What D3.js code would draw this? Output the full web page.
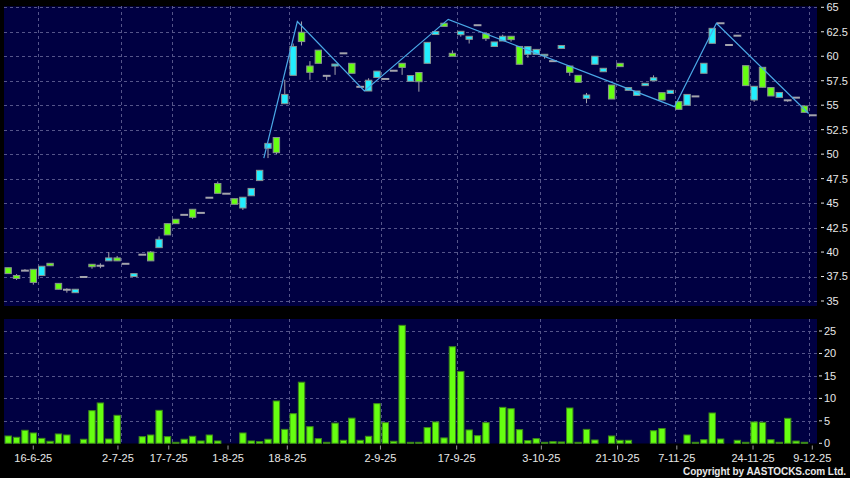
<!DOCTYPE html>
<html><head><meta charset="utf-8">
<script src="https://cdn.jsdelivr.net/npm/d3@7"></script>
<style>html,body{margin:0;padding:0;background:#000;}svg{display:block;}</style>
</head><body><svg id="c" width="850" height="478"></svg>
<script>
const opens = [38.4,37.6,38.1,38.24,37.6,38.85,36.8,36.15,35.85,37.45,
 38.75,38.6,39.1,39.4,38.8,37.5,39.73,40.0,40.45,42.9,
 43.35,43.8,44.37,44.0,45.55,47.0,45.96,45.45,44.5,45.75,
 47.3,50.6,51.7,55.15,58.05,62.45,59.0,60.62,58.0,59.0,
 60.3,59.28,56.88,56.45,57.83,57.68,58.52,59.28,57.44,58.34,
 59.28,62.22,63.37,60.3,62.2,61.73,63.17,62.3,61.0,61.56,
 62.04,61.0,60.2,60.2,60.06,59.5,60.8,59.0,58.05,55.7,
 59.18,58.42,57.06,59.28,56.52,56.0,57.0,57.5,56.28,56.2,
 55.36,55.0,55.9,58.26,61.32,63.37,61.15,62.1,59.04,55.53,
 58.87,56.8,55.8,55.5,55.77,54.92,53.97];
const highs = [38.4,37.75,38.25,38.24,38.55,38.85,36.8,36.3,36.2,37.45,
 38.75,38.85,40.0,39.6,38.8,37.8,39.73,40.1,41.6,42.9,
 43.35,43.8,44.37,44.0,45.55,47.2,45.96,45.45,45.6,46.5,
 48.35,51.1,51.7,57.6,61.3,63.55,59.5,60.62,58.0,59.2,
 60.3,59.28,56.88,57.75,58.48,57.68,58.52,59.28,58.03,58.34,
 61.42,62.52,63.37,60.6,62.55,62.04,63.17,62.3,61.46,62.2,
 62.04,61.0,60.98,60.7,60.2,59.5,61.1,59.0,58.05,56.25,
 60.0,58.77,57.06,59.28,56.8,56.45,57.24,58.05,56.28,56.52,
 55.36,56.1,55.9,59.28,62.85,63.37,61.15,62.1,59.04,56.93,
 58.87,56.8,56.3,55.5,55.77,54.92,53.97];
const lows = [37.8,37.15,38.1,36.67,37.6,38.6,36.2,35.85,35.85,37.45,
 38.3,38.35,39.1,39.1,38.8,37.5,39.73,39.1,40.45,41.75,
 42.9,43.8,43.4,44.0,45.55,46.0,45.96,44.88,44.3,45.75,
 47.3,49.6,50.0,55.15,58.05,61.1,57.6,59.28,57.55,58.1,
 60.3,58.26,56.88,56.45,57.83,57.68,58.52,58.1,57.44,56.38,
 59.28,62.22,63.05,60.0,62.0,61.3,63.17,61.56,61.0,61.56,
 61.5,59.18,59.85,60.2,59.75,59.5,60.8,58.0,57.34,55.2,
 59.18,58.42,55.63,58.94,56.52,56.0,57.0,57.5,55.53,56.2,
 54.58,55.0,55.9,58.26,61.32,63.37,61.15,62.1,57.0,55.33,
 56.83,55.94,55.8,55.35,55.77,54.27,53.97];
const closes = [37.8,37.3,38.1,36.9,38.55,38.6,36.2,36.15,36.2,37.45,
 38.5,38.6,39.4,39.1,38.8,37.8,39.73,39.1,41.3,41.75,
 42.9,43.8,43.55,44.0,45.55,46.0,45.96,44.88,45.6,46.5,
 48.35,51.1,50.15,56.1,61.0,61.5,58.36,59.28,58.0,59.2,
 60.3,58.26,56.88,57.55,58.48,57.68,58.52,58.86,58.03,57.4,
 61.42,62.52,63.05,60.0,62.55,62.04,63.17,61.8,61.46,62.04,
 61.7,59.18,60.98,60.7,60.2,59.5,61.1,58.36,57.34,56.04,
 60.0,58.77,55.63,58.94,56.8,56.45,57.24,57.8,55.53,56.52,
 54.58,56.1,55.9,59.28,62.85,63.37,61.15,62.1,57.0,56.93,
 56.83,55.94,56.3,55.5,55.77,54.27,53.97];
const volumes = [1.63,1.34,2.9,2.3,1.1,0.45,2.08,1.85,0,0.9,
 7.27,8.98,0.96,6.23,0,0,1.48,1.85,7.34,1.48,
 0.2,0.9,1.56,0.52,1.85,0.52,0,0,2.3,0.52,
 0.37,0.9,9.42,3.1,6.6,13.6,3.7,1.04,0.15,4.5,
 0.67,5.6,0.67,1.56,8.83,4.6,0.45,26.26,0.22,0.22,
 3.5,4.75,1.2,21.5,16.0,2.97,1.7,4.6,0,8.0,
 7.7,3.04,0.6,1.04,0.15,0.37,0.3,7.86,0.2,3.1,
 0.74,0,1.63,0.67,0.67,0,0,2.8,3.3,0,
 0,1.85,0.2,0.8,6.75,0.96,0,0.67,0.15,4.75,
 4.67,0.8,0.2,5.56,0.5,0.15,0];
const zigIndex = [31,35,43,53,80,85,96];
const zigValue = [49.6,63.55,56.45,63.77,54.85,63.37,54.15];
const dateIndex = [4,14,20,27,34,45,54,64,73,80,89,96];
const dateLabels = ["16-6-25","2-7-25","17-7-25","1-8-25","18-8-25","2-9-25","17-9-25","3-10-25","21-10-25","7-11-25","24-11-25","9-12-25"];
const priceTicks = [35,37.5,40,42.5,45,47.5,50,52.5,55,57.5,60,62.5,65];
const volTicks = [0,5,10,15,20,25];

const svg = d3.select("#c");
const N = opens.length;
const L = 4, R = 817;
const x = d3.scaleBand().domain(d3.range(N)).range([L, R]).padding(0);
const step = x.step();
const xLab = d3.scaleLinear().domain([0, N-1]).range([-0.6, 812.3]);
const y = d3.scaleLinear().domain([35, 65]).range([301, 7.3]);
const yv = d3.scaleLinear().domain([0, 25]).range([443.3, 331]);

const NAVY = "#000042", GRID = "#55558a", TXT = "#e8e8e8";
const GREEN = "#66ff11", CYAN = "#22eeff", GREY = "#a4a4ac";
const FONT = "'Liberation Sans', Arial, sans-serif";

svg.append("rect").attr("width",850).attr("height",478).attr("fill","#000");
// panels
svg.append("rect").attr("x",L).attr("y",6.3).attr("width",R-L).attr("height",306-6.3).attr("fill",NAVY);
svg.append("rect").attr("x",L).attr("y",319).attr("width",R-L).attr("height",443.5-319).attr("fill",NAVY);

// grids
const g = svg.append("g").attr("stroke",GRID).attr("stroke-width",1).attr("stroke-dasharray","3,3").attr("shape-rendering","crispEdges");
priceTicks.forEach(t=>g.append("line").attr("x1",L).attr("x2",R).attr("y1",Math.round(y(t))+0.5).attr("y2",Math.round(y(t))+0.5));
volTicks.filter(t=>t>0).forEach(t=>g.append("line").attr("x1",L).attr("x2",R).attr("y1",Math.round(yv(t))+0.5).attr("y2",Math.round(yv(t))+0.5));
dateIndex.forEach(i=>{
  const gx = Math.round(x(i))+0.5;
  g.append("line").attr("x1",gx).attr("x2",gx).attr("y1",6.3).attr("y2",306);
  g.append("line").attr("x1",gx).attr("x2",gx).attr("y1",319).attr("y2",443.5);
});

// candles
const data = d3.range(N).map(i=>({i,o:opens[i],h:highs[i],l:lows[i],c:closes[i],v:volumes[i]}));
const cg = svg.append("g");
data.forEach(d=>{
  const cx = x(d.i) + step/2;
  if (d.h > d.l) {
    cg.append("line").attr("x1",cx).attr("x2",cx).attr("y1",y(d.h)).attr("y2",y(d.l))
      .attr("stroke",GREY).attr("stroke-width",1);
  }
  if (d.o === d.c) {
    cg.append("line").attr("x1",x(d.i)+0.3).attr("x2",x(d.i)+step-0.3)
      .attr("y1",y(d.c)).attr("y2",y(d.c)).attr("stroke",GREY).attr("stroke-width",2);
  } else {
    const top = y(Math.max(d.o,d.c)), bot = y(Math.min(d.o,d.c));
    cg.append("rect").attr("x",x(d.i)+1).attr("y",top).attr("width",step-2).attr("height",Math.max(bot-top,1.5))
      .attr("fill", d.c > d.o ? CYAN : GREEN).attr("stroke","#8a9490").attr("stroke-width",1);
  }
});

// zigzag
svg.append("path").datum(zigIndex.map((k,j)=>[x(k), y(zigValue[j])]))
  .attr("d", d3.line()).attr("fill","none").attr("stroke","#4aa8e6").attr("stroke-width",1.2);

// volume bars
svg.append("g").selectAll("rect").data(data.filter(d=>d.v>0)).join("rect")
  .attr("x",d=>x(d.i)+1).attr("width",step-2)
  .attr("y",d=>Math.min(yv(d.v), yv(0)-1)).attr("height",d=>Math.max(yv(0)-yv(d.v),1))
  .attr("fill",GREEN).attr("stroke","#3d8a18").attr("stroke-width",1);

// right axes
const ax = svg.append("g").attr("font-family",FONT).attr("font-size",11).attr("fill",TXT);
priceTicks.forEach(t=>{
  ax.append("line").attr("x1",821).attr("x2",824).attr("y1",y(t)).attr("y2",y(t)).attr("stroke",TXT);
  ax.append("text").attr("x",826.5).attr("y",y(t)).attr("dy","0.36em").text(t);
});
volTicks.forEach(t=>{
  ax.append("line").attr("x1",819).attr("x2",822).attr("y1",yv(t)).attr("y2",yv(t)).attr("stroke",TXT);
  ax.append("text").attr("x",824).attr("y",yv(t)).attr("dy","0.36em").text(t);
});
// date axis
dateIndex.forEach((k,j)=>{
  const tx = xLab(k);
  ax.append("line").attr("x1",tx).attr("x2",tx).attr("y1",445.5).attr("y2",449.5).attr("stroke","#999");
  ax.append("text").attr("x",tx).attr("y",462).attr("text-anchor","middle").text(dateLabels[j]);
});
svg.append("text").attr("x",683).attr("y",474.5).attr("font-family",FONT).attr("font-size",10)
  .attr("font-weight","bold").attr("fill",TXT).attr("textLength",163).attr("lengthAdjust","spacing")
  .text("Copyright by AASTOCKS.com Ltd.");
</script></body></html>
